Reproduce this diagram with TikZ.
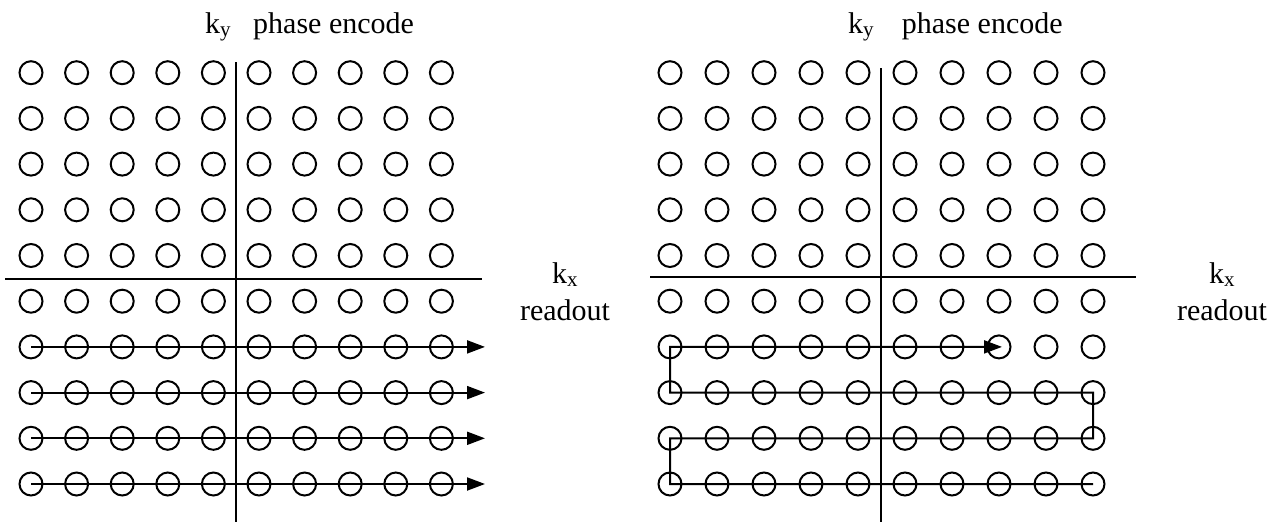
\documentclass[tikz,border=0pt]{standalone}
\usepackage{fontspec}
\setmainfont{Liberation Serif}
\usetikzlibrary{arrows.meta}
\begin{document}
\begin{tikzpicture}[x=1pt,y=-1pt,
  dot/.style={circle,draw,line width=2pt,minimum size=23pt,inner sep=0pt},
  axis/.style={line width=2pt},
  scan/.style={line width=2pt},
  tip/.style={-{Triangle[length=18pt,width=13pt]}},
  lbl/.style={font=\fontsize{30}{33}\selectfont,inner sep=0pt,anchor=base}]
\useasboundingbox (0,0) rectangle (1284,522);
\foreach \r in {1,...,10}{
  \foreach \c in {1,...,10}{
    \node[dot] (L-\r-\c) at ({31+45.6*(\c-1)},{72.7+45.7*(\r-1)}) {};
    \node[dot] (R-\r-\c) at ({670+47*(\c-1)},{72.7+45.7*(\r-1)}) {};
  }}
% axes
\coordinate (LVt) at (235.5,62);
\coordinate (LVb) at (235.5,522);
\coordinate (LHl) at (5,279);
\coordinate (LHr) at (482,279);
\coordinate (RVt) at (881,68);
\coordinate (RVb) at (881,522);
\coordinate (RHl) at (650,277);
\coordinate (RHr) at (1136,277);
\draw[axis] (LVt) -- (LVb);
\draw[axis] (LHl) -- (LHr);
\draw[axis] (RVt) -- (RVb);
\draw[axis] (RHl) -- (RHr);
% left scans
\foreach \r in {7,...,10}{
  \coordinate (LA-\r) at (485,{72.7+45.7*(\r-1)});
  \draw[scan,tip] (L-\r-1.center) -- (LA-\r);
}
% right snake
\coordinate (RA) at (1002,346.9);
\draw[scan,tip] (R-10-10.center) -- (R-10-1.center) -- (R-9-1.center) -- (R-9-10.center)
  -- (R-8-10.center) -- (R-8-1.center) -- (R-7-1.center) -- (RA);
% labels
\node[lbl,anchor=base west] (Lky) at (205,33) {k\textsubscript{y}};
\node[lbl,anchor=base west] (Lpe) at (253,33) {phase encode};
\node[lbl,anchor=base west] (Rky) at (848,33) {k\textsubscript{y}};
\node[lbl,anchor=base west] (Rpe) at (901.7,33) {phase encode};
\node[lbl] (Lkx) at (565,283) {k\textsubscript{x}};
\node[lbl] (Lro) at (565,320) {readout};
\node[lbl] (Rkx) at (1222,283) {k\textsubscript{x}};
\node[lbl] (Rro) at (1222,320) {readout};
\end{tikzpicture}
\end{document}
